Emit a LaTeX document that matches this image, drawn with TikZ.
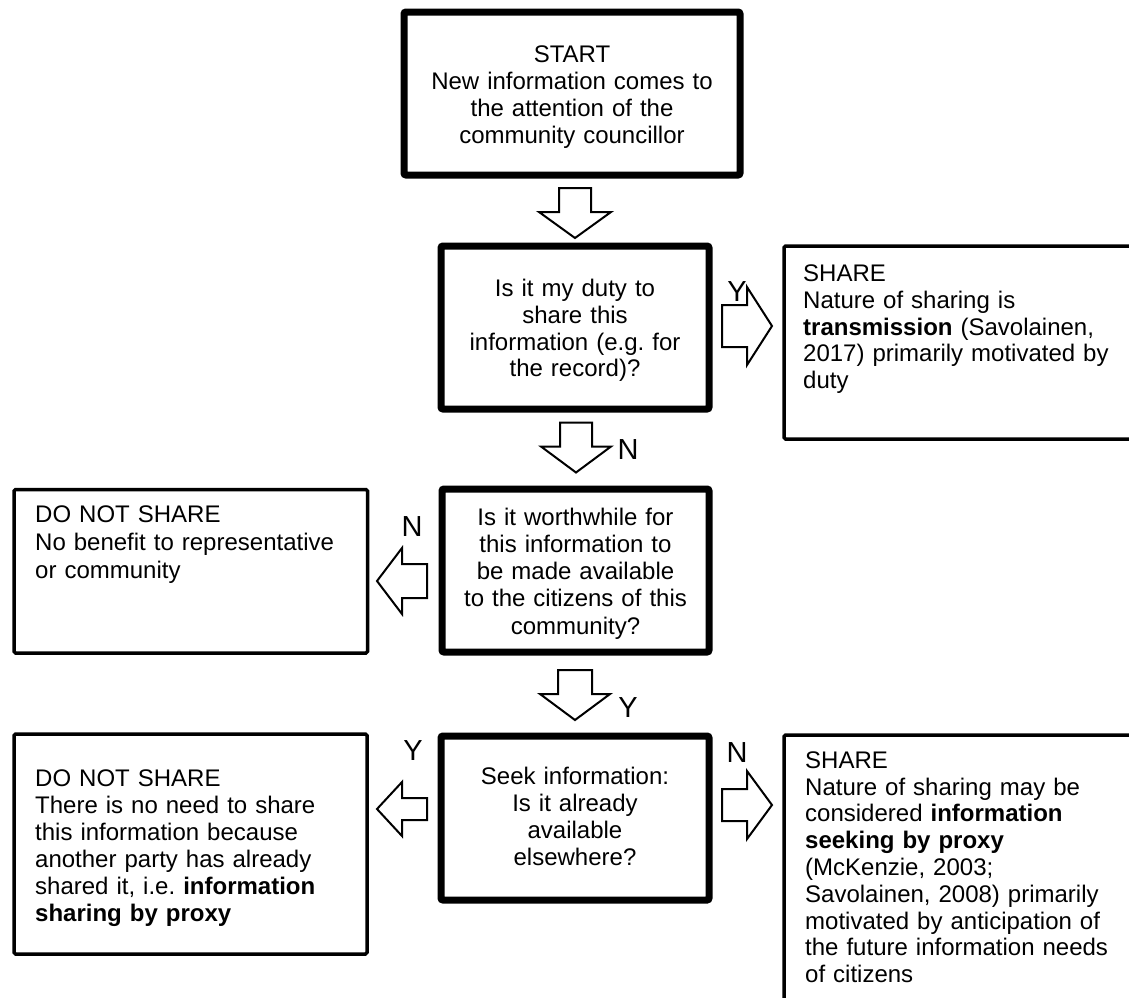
\documentclass[tikz,border=0pt]{standalone}
\usepackage{fontspec}
\setmainfont{Liberation Sans}
\usetikzlibrary{calc}
\frenchspacing
\newcommand\blkdown[3]{\draw[blk,shift={(#1)}] (-#2,-25) -- (#2,-25) -- (#2,-1) -- (#3,-1) -- (0,25) -- (-#3,-1) -- (-#2,-1) -- cycle;}
\newcommand\blkleft[3]{\draw[blk,shift={(#1)}] (25,-#2) -- (25,#2) -- (0,#2) -- (0,#3) -- (-25,0) -- (0,-#3) -- (0,-#2) -- cycle;}
\newcommand\blkright[3]{\draw[blk,shift={(#1)}] (-25,-#2) -- (-25,#2) -- (0,#2) -- (0,#3) -- (25,0) -- (0,-#3) -- (0,-#2) -- cycle;}
\begin{document}
\frenchspacing
\begin{tikzpicture}[x=1pt,y=-1pt,
  thickbox/.style={draw, line width=7pt, rounded corners=2pt, inner sep=0pt, outer sep=0pt},
  thinbox/.style={draw, line width=3.5pt, rounded corners=1.5pt, inner sep=0pt, outer sep=0pt},
  blk/.style={draw, line width=2pt, fill=white, line join=miter},
  txt/.style={inner sep=0pt, font=\fontsize{24pt}{27pt}\selectfont\frenchspacing},
  ctxt/.style={txt, text width=330pt, align=center, anchor=base},
  ltxt/.style={txt, text width=400pt, align=left, anchor=base west},
  lbl/.style={inner sep=0pt, font=\fontsize{29pt}{30pt}\selectfont}]
\useasboundingbox (0,0) rectangle (1129,997);
\clip (0,0) rectangle (1129,997);
\fill[white] (0,0) rectangle (1129,997);

% boxes
\node[thickbox, minimum width=336pt, minimum height=163pt] (start) at (572,93.5) {};
\node[thickbox, minimum width=268pt, minimum height=163pt] (duty) at (575,327.5) {};
\node[thickbox, minimum width=267pt, minimum height=163pt] (worth) at (575.5,570.5) {};
\node[thickbox, minimum width=268pt, minimum height=164pt] (seek) at (575,818) {};
\node[thinbox, minimum width=386pt, minimum height=193pt] (share1) at (977,342.5) {};
\node[thinbox, minimum width=353.5pt, minimum height=163.5pt] (dns1) at (190.75,571.25) {};
\node[thinbox, minimum width=353pt, minimum height=220pt] (dns2) at (190.5,844) {};
\node[thinbox, minimum width=386pt, minimum height=320pt] (share2) at (977,895) {};

% texts
\node[ctxt] (tstart) at (572,62.7) {START\\New information comes to\\the attention of the\\community councillor};
\node[ctxt, font=\fontsize{24pt}{26.7pt}\selectfont\frenchspacing] (tduty) at (575,296.7) {Is it my duty to\\share this\\information (e.g. for\\the record)?};
\node[ctxt, font=\fontsize{24pt}{27.3pt}\selectfont] (tworth) at (575.5,525) {Is it worthwhile for\\this information to\\be made available\\to the citizens of this\\community?};
\node[ctxt] (tseek) at (575,784) {Seek information:\\Is it already\\available\\elsewhere?};
\node[ltxt, font=\fontsize{24pt}{26.7pt}\selectfont] (tshare1) at (803,281.7) {SHARE\\Nature of sharing is\\\textbf{transmission} (Savolainen,\\2017) primarily motivated by\\duty};
\node[ltxt, font=\fontsize{24pt}{28pt}\selectfont] (tdns1) at (35,522.7) {DO NOT SHARE\\No benefit to representative\\or community};
\node[ltxt] (tdns2) at (35,786.7) {DO NOT SHARE\\There is no need to share\\this information because\\another party has already\\shared it, i.e. \textbf{information}\\\textbf{sharing by proxy}};
\node[ltxt, font=\fontsize{24pt}{26.8pt}\selectfont] (tshare2) at (805,768.3) {SHARE\\Nature of sharing may be\\considered \textbf{information}\\\textbf{seeking by proxy}\\(McKenzie, 2003;\\Savolainen, 2008) primarily\\motivated by anticipation of\\the future information needs\\of citizens};

% block arrows
\coordinate (a1) at ($(duty.north)+(0,-33)$);
\coordinate (a2) at ($(duty.south)+(1,38.5)$);
\coordinate (a3) at ($(seek.north)+(0,-41)$);
\coordinate (a4) at ($(duty.east)+(38,-1.5)$);
\coordinate (a5) at ($(worth.west)+(-40,10.5)$);
\coordinate (a6) at ($(seek.west)+(-39,-9)$);
\coordinate (a7) at ($(seek.east)+(38,-13)$);
\blkdown{a1}{16}{36}
\blkdown{a2}{16}{35}
\blkdown{a3}{17}{35}
\blkright{a4}{21}{39}
\blkleft{a5}{17}{33}
\blkleft{a6}{11}{27}
\blkright{a7}{16}{34}

% labels
\node[lbl] (l1) at ($(a4)+(-10,-34)$) {Y};
\node[lbl] (l2) at ($(a2)+(52,2.5)$) {N};
\node[lbl] (l3) at ($(a5)+(10,-54)$) {N};
\node[lbl] (l4) at ($(a3)+(53,13)$) {Y};
\node[lbl] (l5) at ($(a6)+(11,-58)$) {Y};
\node[lbl] (l6) at ($(a7)+(-10,-52)$) {N};
\end{tikzpicture}
\end{document}
